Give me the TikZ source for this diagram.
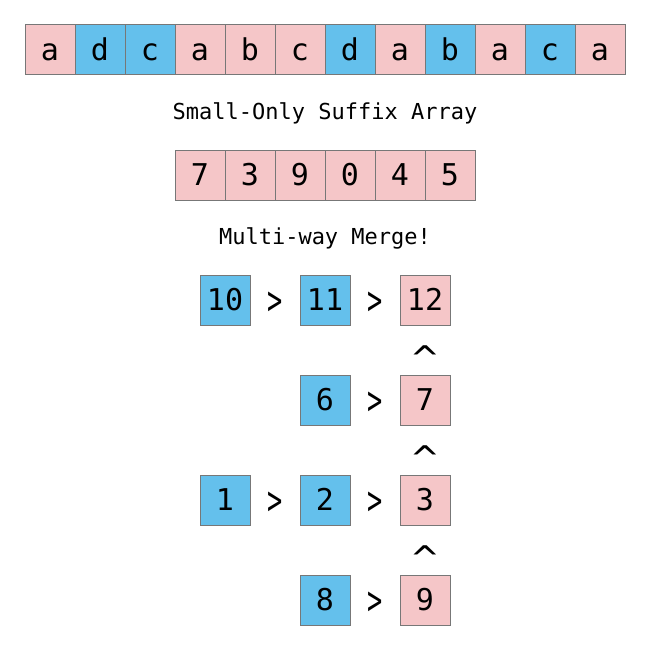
\documentclass[tikz,border=0pt]{standalone}
\usepackage{fontspec}
\setmonofont{DejaVu Sans Mono}
\definecolor{pinkc}{HTML}{F5C6C8}
\definecolor{bluec}{HTML}{64C0EC}
\definecolor{edgec}{HTML}{777777}
\begin{document}
\begin{tikzpicture}[x=1pt,y=-1pt,
  cell/.style={draw=edgec,line width=1pt,minimum size=50pt,inner sep=0pt,outer sep=0pt,
    font=\ttfamily\fontsize{30}{30}\selectfont,text height=21pt,text depth=0pt},
  pk/.style={cell,fill=pinkc},
  bl/.style={cell,fill=bluec},
  gt/.style={inner sep=0pt,anchor=base,xscale=0.7,yscale=1.12,font=\ttfamily\fontsize{36}{36}\selectfont},
  up/.style={inner sep=0pt,anchor=base,xscale=1.25,font=\ttfamily\fontsize{34}{34}\selectfont},
  caption/.style={inner sep=0pt,anchor=base,font=\ttfamily\fontsize{22}{22}\selectfont}]
\useasboundingbox (0,0) rectangle (650,650);
\fill[white] (0,0) rectangle (650,650);
% top string
\foreach \c/\s [count=\i from 0] in {a/pk,d/bl,c/bl,a/pk,b/pk,c/pk,d/bl,a/pk,b/bl,a/pk,c/bl,a/pk}
  \node[\s] (t\i) at (50+50*\i,50) {\c};
\node[caption] (cap1) at (325,120) {Small-Only Suffix Array};
\foreach \c [count=\i from 0] in {7,3,9,0,4,5}
  \node[pk] (s\i) at (200+50*\i,175) {\c};
\node[caption] (cap2) at (325,244) {Multi-way Merge!};
% merge grid
\node[bl] (n10) at (225,300) {10};
\node[bl] (n11) at (325,300) {11};
\node[pk] (n12) at (425,300) {12};
\node[bl] (n6) at (325,400) {6};
\node[pk] (n7) at (425,400) {7};
\node[bl] (n1) at (225,500) {1};
\node[bl] (n2) at (325,500) {2};
\node[pk] (n3) at (425,500) {3};
\node[bl] (n8) at (325,600) {8};
\node[pk] (n9) at (425,600) {9};
% comparison symbols
\node[gt] (g1) at (275.5,314.5) {>};
\node[gt] (g2) at (375.5,314.5) {>};
\node[gt] (g3) at (375.5,414.5) {>};
\node[gt] (g4) at (275.5,514.5) {>};
\node[gt] (g5) at (375.5,514.5) {>};
\node[gt] (g6) at (375.5,614.5) {>};
\node[up] (u1) at (425,370) {\textasciicircum};
\node[up] (u2) at (425,470) {\textasciicircum};
\node[up] (u3) at (425,570) {\textasciicircum};
\end{tikzpicture}
\end{document}
